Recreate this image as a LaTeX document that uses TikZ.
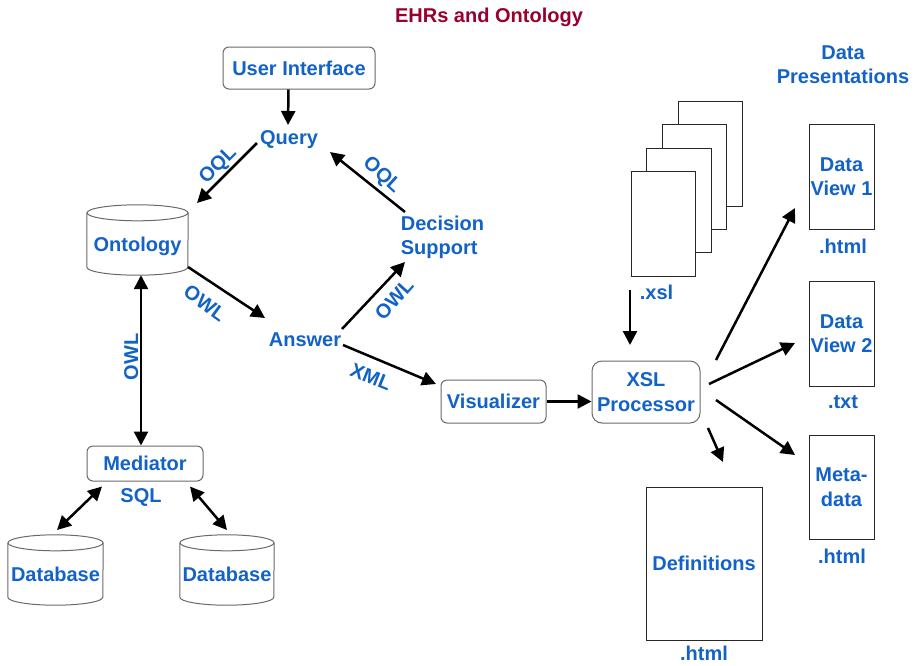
\documentclass[tikz,border=0pt]{standalone}
\usepackage{fontspec}
\setmainfont{Liberation Sans}
\usetikzlibrary{arrows.meta,calc}
\definecolor{txtblue}{RGB}{18,98,200}
\definecolor{titlered}{RGB}{153,0,45}
\definecolor{boxgrey}{RGB}{105,105,105}
\definecolor{docline}{RGB}{40,40,40}

\tikzset{
  lbl/.style={font=\fontsize{20}{24.5}\selectfont\bfseries, text=txtblue, inner sep=0pt},
  one/.style={lbl, text height=14.5pt, text depth=4.5pt},
  tag/.style={lbl, text height=14pt, text depth=0pt},
  lines/.style={lbl, align=center},
  rbox/.style={lbl, align=center, draw=boxgrey, line width=1pt, rounded corners=6pt, fill=white},
  docbox/.style={lbl, align=center, draw=docline, line width=1pt, fill=white},
  cylbody/.style={lbl, text height=14.5pt, text depth=4.5pt, minimum height=70pt},
  cylline/.style={draw=boxgrey, line width=1pt},
  tipA/.tip={Triangle[length=14pt,width=14pt]},
  flow/.style={line width=2.5pt, -tipA},
  both/.style={line width=2.5pt, tipA-tipA},
}

% outline of a database cylinder around a named node
\newcommand\cylout[2]{%
  \draw[cylline] ([yshift=-8pt]#1.north west) -- ([yshift=8pt]#1.south west)
    arc[start angle=180,end angle=360,x radius=#2,y radius=8pt]
    -- ([yshift=-8pt]#1.north east);
  \draw[cylline] ([yshift=-8pt]#1.north) ellipse[x radius=#2,y radius=8pt];}

\begin{document}
\begin{tikzpicture}[x=1pt,y=-1pt]
\useasboundingbox (0,0) rectangle (918,665);

% title and column heading
\node[one, text=titlered] (title) at (489,17.5) {EHRs and Ontology};
\node[lines] (dpres) at (843,64.5) {Data\\Presentations};

% query loop
\node[rbox, minimum width=152pt, minimum height=42pt] (ui) at (299,68) {User Interface};
\node[one] (query) at (289,139.5) {Query};
\node[lines, align=left] (decision) at (442.5,237.5) {Decision\\Support};
\node[one] (answer) at (305,341) {Answer};

\node[cylbody, minimum width=101pt] (onto) at (137.5,240) {\raisebox{-6.5pt}{Ontology}};
\cylout{onto}{50.5pt}

% sources
\node[rbox, minimum width=116pt, minimum height=35pt] (mediator) at (145,463.5) {Mediator};
\node[one] (sql) at (141,497.5) {SQL};
\node[cylbody, minimum width=95pt] (db1) at (55.5,570) {\raisebox{-6.5pt}{Database}};
\cylout{db1}{47.5pt}
\node[cylbody, minimum width=94pt] (db2) at (227,570) {\raisebox{-6.5pt}{Database}};
\cylout{db2}{47pt}

% presentation pipeline
\node[rbox, minimum width=105pt, minimum height=43pt] (vis) at (493.5,401.5) {Visualizer};
\node[rbox, rounded corners=10pt, minimum width=108pt, minimum height=62pt] (xsl) at (646,392) {XSL\\Processor};

% stack of stylesheets
\node[docbox, minimum width=64pt, minimum height=105pt] (pg4) at (710,153.5) {};
\node[docbox, minimum width=64pt, minimum height=105pt] (pg3) at (694,176.5) {};
\node[docbox, minimum width=65pt, minimum height=104pt] (pg2) at (678.5,200) {};
\node[docbox, minimum width=64pt, minimum height=105pt] (pg1) at (663,223.5) {};
\node[one] (xslext) at (656.5,294.5) {.xsl};

% output documents
\node[docbox, minimum width=65pt, minimum height=105pt] (dv1) at (841.5,176.5) {Data\\View 1};
\node[one] (dv1ext) at (843,248.5) {.html};
\node[docbox, minimum width=65pt, minimum height=105pt] (dv2) at (841.5,333.5) {Data\\View 2};
\node[one] (dv2ext) at (843,403.5) {.txt};
\node[docbox, minimum width=65pt, minimum height=104pt] (meta) at (841.5,487) {Meta-\\data};
\node[one] (metaext) at (842,558) {.html};
\node[docbox, minimum width=116pt, minimum height=153pt] (defs) at (704,563.5) {Definitions};
\node[one] (defsext) at (704,655.5) {.html};

% connectors
\draw[flow] ($(ui.south)+(-10.5,0)$) -- ($(query)+(-1,-14.5)$);
\draw[flow] ($(query)+(-32,3.5)$) -- ($(onto)+(59.5,-37)$);
\draw[flow] ($(decision)+(-37.5,-25.5)$) -- ($(query)+(41,12.5)$);
\draw[flow] ($(onto)+(50.5,27)$) -- ($(answer)+(-40,-23)$);
\draw[flow] ($(answer)+(37,-12)$) -- ($(decision)+(-37.5,24.5)$);
\draw[flow] ($(answer)+(38,4)$) -- ($(vis)+(-57.5,-17.5)$);
\draw[flow] (vis.east) -- (vis.east -| xsl.west);
\draw[flow] ($(pg1)+(-33,66.5)$) -- ($(xsl)+(-16,-47)$);
\draw[flow] ($(xsl)+(70,-32)$) -- ($(dv1)+(-46.5,31.5)$);
\draw[flow] ($(xsl)+(63,-8)$) -- ($(dv2)+(-46.5,9.5)$);
\draw[flow] ($(xsl)+(70,8)$) -- ($(meta)+(-46.5,-32)$);
\draw[flow] ($(xsl)+(62,36)$) -- ($(defs)+(19,-101.5)$);
\draw[both] ($(onto.south)+(3.5,0)$) -- ($(mediator.north)+(-4,0)$);
\draw[both] ($(mediator)+(-43,23)$) -- ($(db1)+(1.5,-40)$);
\draw[both] ($(mediator)+(45,23)$) -- ($(db2)+(0,-40)$);

% connector labels, set just beside their lines
\node[tag, rotate=45] (oqlA) at (217,164) {OQL};
\node[tag, rotate=-42] (oqlB) at (383,174) {OQL};
\node[tag, rotate=-36] (owlA) at (205,303) {OWL};
\node[tag, rotate=48] (owlB) at (394,299) {OWL};
\node[tag, rotate=-22] (xmlL) at (371,377) {XML};
\node[tag, rotate=90] (owlC) at (131,357) {OWL};
\end{tikzpicture}
\end{document}
